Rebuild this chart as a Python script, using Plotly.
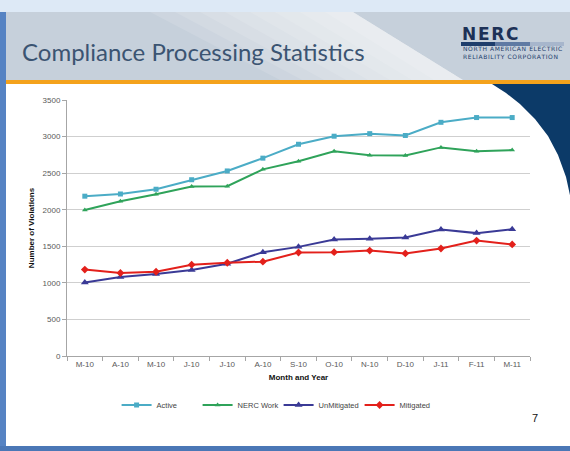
import plotly.graph_objects as go

months = ["M-10", "A-10", "M-10 ", "J-10", "J-10 ", "A-10 ", "S-10", "O-10", "N-10", "D-10", "J-11", "F-11", "M-11"]
month_labels = ["M-10", "A-10", "M-10", "J-10", "J-10", "A-10", "S-10", "O-10", "N-10", "D-10", "J-11", "F-11", "M-11"]
active = [2185, 2215, 2280, 2410, 2530, 2705, 2895, 3005, 3040, 3015, 3195, 3260, 3260]
nerc_work = [1995, 2115, 2210, 2318, 2322, 2552, 2662, 2800, 2745, 2740, 2852, 2800, 2815]
unmitigated = [1005, 1080, 1120, 1175, 1262, 1420, 1492, 1592, 1602, 1620, 1728, 1680, 1732]
mitigated = [1182, 1135, 1152, 1248, 1275, 1290, 1415, 1420, 1442, 1402, 1470, 1578, 1525]
y_ticks = [0, 500, 1000, 1500, 2000, 2500, 3000, 3500]

W, H = 570, 451
L, R, T, B = 67, 40, 100, 95
PW, PH = W - L - R, H - T - B


def px(x):
    return (x - L) / PW


def py(y):
    return (H - B - y) / PH


def rect(x0, y0, x1, y1, color, **kw):
    return dict(type="rect", xref="paper", yref="paper", x0=px(x0), x1=px(x1),
                y0=py(y1), y1=py(y0), fillcolor=color, line=dict(width=0), layer="below", **kw)


def path(points, color, **kw):
    d = "M " + " L ".join(f"{px(a):.4f},{py(b):.4f}" for a, b in points) + " Z"
    return dict(type="path", xref="paper", yref="paper", path=d, fillcolor=color,
                line=dict(width=0), layer="below", **kw)


def spaced(s):
    return "\u200a".join(s)


fig = go.Figure()
series = [
    ("Active", active, "#4bacc6", "square", 5),
    ("NERC Work", nerc_work, "#2fa35a", "triangle-up", 5),
    ("UnMitigated", unmitigated, "#3a3a96", "triangle-up", 7),
    ("Mitigated", mitigated, "#e3201b", "diamond", 6),
]
for name, vals, col, sym, size in series:
    fig.add_trace(go.Scatter(x=months, y=vals, name=name, mode="lines+markers",
                             line=dict(color=col, width=2),
                             marker=dict(symbol=sym, size=size, color=col)))

shapes = []
# top toolbar strip
shapes.append(rect(0, 0, 570, 12, "#dde9f6"))
# header band
shapes.append(rect(5, 12, 570, 80, "#c6d0db"))
for k in range(8):
    left_top = 150 + k * 25
    left_bot = 280 + k * 22
    shapes.append(path([(left_top, 12), (353, 12), (463, 80), (left_bot, 80)], "white", opacity=0.12))
# navy curve on right
curve = [(492, 84), (506, 93), (520, 104), (535, 119), (548, 136), (558, 155), (566, 177), (571, 200), (571, 84)]
shapes.append(path(curve, "#0c3a68"))
# orange line
shapes.append(rect(5, 80, 570, 84, "#f4a21c"))
# left and bottom borders
shapes.append(rect(0, 12, 6, 451, "#5683c3"))
shapes.append(rect(0, 446, 570, 451, "#4b77b6"))
# NERC bar
shapes.append(rect(461, 42, 495, 46, "#1d3d6c"))
shapes.append(rect(495, 42, 530, 46, "#5f7aa3"))
shapes.append(rect(530, 42, 564, 46, "#a7b6cc"))

annotations = [
    dict(text="Compliance Processing Statistics", x=px(20), y=py(51), xref="paper", yref="paper",
         xanchor="left", yanchor="middle", showarrow=False,
         font=dict(family="Lato", size=24, color="#3b5472")),
    dict(text="<b>" + spaced("NERC") + "</b>", x=px(460), y=py(34), xref="paper", yref="paper",
         xanchor="left", yanchor="middle", showarrow=False,
         font=dict(family="DejaVu Sans", size=17, color="#1d3157")),
    dict(text=spaced("NORTH AMERICAN ELECTRIC") + "<br>" + spaced("RELIABILITY CORPORATION"),
         x=px(461), y=py(52.5), xref="paper", yref="paper", align="left",
         xanchor="left", yanchor="middle", showarrow=False,
         font=dict(family="DejaVu Sans", size=6, color="#1d3d6c")),
    dict(text="7", x=px(535), y=py(418), xref="paper", yref="paper",
         xanchor="center", yanchor="middle", showarrow=False,
         font=dict(family="Liberation Sans", size=11, color="#111111")),
]

fig.update_layout(
    width=W, height=H,
    margin=dict(l=L, r=R, t=T, b=B),
    paper_bgcolor="white", plot_bgcolor="rgba(0,0,0,0)",
    shapes=shapes, annotations=annotations,
    showlegend=True,
    legend=dict(orientation="h", x=0.457, y=py(405), xanchor="center", yanchor="middle",
                font=dict(family="Liberation Sans", size=7.5, color="#444444"),
                itemwidth=30, bgcolor="rgba(0,0,0,0)", tracegroupgap=0,
                entrywidth=36),
    font=dict(family="Liberation Sans"),
)
fig.update_xaxes(
    tickvals=months, ticktext=month_labels, tickson="boundaries", ticks="outside", ticklen=4,
    tickcolor="#a6a6a6", showline=True, linecolor="#a6a6a6", linewidth=1, showgrid=False,
    tickfont=dict(size=8, color="#595959"),
    title=dict(text="<b>Month and Year</b>", font=dict(size=8, color="#111111"), standoff=6),
    range=[-0.5, 12.5], fixedrange=True,
)
fig.update_yaxes(
    range=[0, 3500], tickvals=y_ticks, ticks="outside", ticklen=4, tickcolor="#a6a6a6",
    showline=True, linecolor="#a6a6a6", linewidth=1, showgrid=True, gridcolor="#cfcfcf",
    tickfont=dict(size=8, color="#595959"), zeroline=False,
    title=dict(text="<b>Number of Violations</b>", font=dict(size=8, color="#111111"), standoff=6),
)

fig.write_html("out.html", config={"displayModeBar": False},
               post_script="document.body.style.margin='0';document.body.style.overflow='hidden';")
